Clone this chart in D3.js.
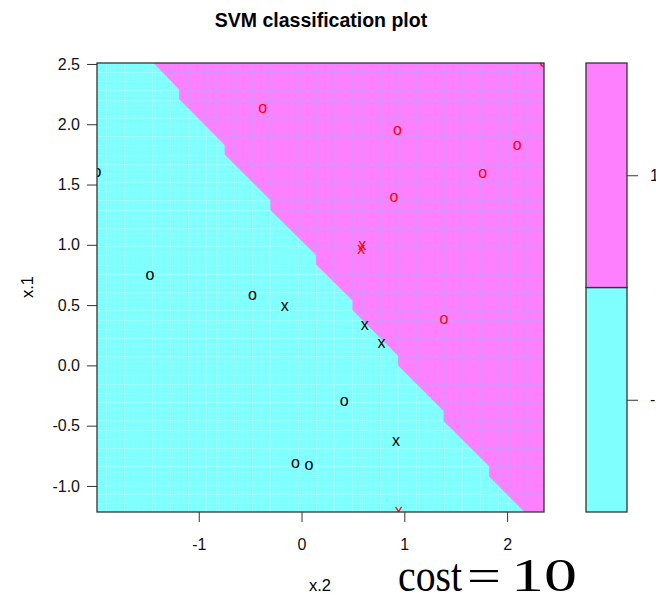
<!DOCTYPE html>
<html>
<head>
<meta charset="utf-8">
<script src="https://cdn.jsdelivr.net/npm/d3@7/dist/d3.min.js"></script>
<style>
  body { margin: 0; background: #fff; }
  svg text { font-family: "Liberation Sans", Arial, Helvetica, sans-serif; }
</style>
</head>
<body>
<svg width="656" height="596"></svg>
<script>
var classes = ["-1", "1"],
    regionColors = ["#80FFFF", "#FF80FF"],
    symbolColors = ["#000000", "#FF0000"];

// training data: x.2 horizontal, x.1 vertical
var pointX2 = [-1.990, -1.476, -0.478, -0.164, 0.616, 0.778, 0.414, 0.918, -0.059, 0.073,
               -0.378, 0.934, 2.099, 1.762, 0.898, 0.591, 0.581, 1.385, 0.947, 2.359];
var pointX1 = [1.596, 0.742, 0.578, 0.487, 0.327, 0.183, -0.301, -0.633, -0.818, -0.832,
               2.127, 1.947, 1.822, 1.593, 1.391, 0.995, 0.957, 0.383, -1.216, 2.508];
var pointClass = [0, 0, 0, 0, 0, 0, 0, 0, 0, 0,
                  1, 1, 1, 1, 1, 1, 1, 1, 1, 1];
var isSupport = [0, 0, 0, 1, 1, 1, 0, 1, 0, 0,
                 0, 0, 0, 0, 0, 1, 1, 0, 1, 0];

// stepped decision boundary
var boundaryX2 = [-1.440, -1.191, -1.191, -0.748, -0.748, -0.303, -0.303, 0.141, 0.141,
                  0.496, 0.496, 0.940, 0.940, 1.382, 1.382, 1.826, 1.826, 2.169];
var boundaryX1 = [2.508, 2.289, 2.210, 1.828, 1.749, 1.372, 1.289, 0.916, 0.837,
                  0.539, 0.460, 0.078, -0.001, -0.378, -0.461, -0.838, -0.921, -1.216];

var xTicks = [-1, 0, 1, 2],
    yTicks = [-1.0, -0.5, 0.0, 0.5, 1.0, 1.5, 2.0, 2.5];

var svg = d3.select("svg"),
    pLeft = 97, pRight = 544, pTop = 63, pBottom = 512;

var x = d3.scaleLinear().domain(d3.extent(pointX2)).range([pLeft, pRight]),
    y = d3.scaleLinear().domain(d3.extent(pointX1)).range([pBottom, pTop]);

var defs = svg.append("defs");
defs.append("clipPath").attr("id", "panel")
  .append("rect")
    .attr("x", pLeft).attr("y", pTop)
    .attr("width", pRight - pLeft).attr("height", pBottom - pTop);

// pink region: boundary then round the right-hand corners
var region = boundaryX2.map(function(d, i) { return [x(d), y(boundaryX1[i])]; });
region.push([x.range()[1], y.range()[0]], [x.range()[1], y.range()[1]]);

defs.append("clipPath").attr("id", "pinkclip")
  .append("polygon")
    .attr("points", region.join(" "));

var plot = svg.append("g").attr("clip-path", "url(#panel)");

plot.append("rect")
    .attr("x", pLeft).attr("y", pTop)
    .attr("width", pRight - pLeft).attr("height", pBottom - pTop)
    .attr("fill", regionColors[0]);

// faint seams of the 50 x 50 prediction grid
var gx = d3.range(50).map(function(i) { return x.domain()[0] + i * (x.domain()[1] - x.domain()[0]) / 49; }),
    gy = d3.range(50).map(function(i) { return y.domain()[0] + i * (y.domain()[1] - y.domain()[0]) / 49; });

function seams(g, color, op) {
  g.selectAll("line.v").data(gx).enter().append("line")
      .attr("x1", function(d) { return Math.round(x(d)) + 0.5; })
      .attr("x2", function(d) { return Math.round(x(d)) + 0.5; })
      .attr("y1", pTop).attr("y2", pBottom)
      .attr("stroke", color).attr("stroke-opacity", op);
  g.selectAll("line.h").data(gy).enter().append("line")
      .attr("y1", function(d) { return Math.round(y(d)) + 0.5; })
      .attr("y2", function(d) { return Math.round(y(d)) + 0.5; })
      .attr("x1", pLeft).attr("x2", pRight)
      .attr("stroke", color).attr("stroke-opacity", op);
}

plot.append("g").call(seams, "#ffffff", 0.2);

plot.append("polygon")
    .attr("points", region.join(" "))
    .attr("fill", regionColors[1]);

plot.append("g").attr("clip-path", "url(#pinkclip)").call(seams, "#90c0ff", 0.28);

// points: "o" for data, "x" for support vectors
plot.selectAll("text.pt")
  .data(pointX2)
  .enter().append("text")
    .attr("class", "pt")
    .attr("x", function(d) { return x(d); })
    .attr("y", function(d, i) { return y(pointX1[i]); })
    .attr("dy", "0.27em")
    .attr("text-anchor", "middle")
    .style("font-size", "16px")
    .attr("fill", function(d, i) { return symbolColors[pointClass[i]]; })
    .text(function(d, i) { return isSupport[i] ? "x" : "o"; });

svg.append("rect")
    .attr("x", pLeft).attr("y", pTop)
    .attr("width", pRight - pLeft).attr("height", pBottom - pTop)
    .attr("fill", "none").attr("stroke", "#333").attr("stroke-width", 1.3);

// axes
var xAxis = svg.append("g")
    .attr("transform", "translate(0," + pBottom + ")")
    .call(d3.axisBottom(x).tickValues(xTicks).tickSize(10).tickSizeOuter(0).tickPadding(17)
      .tickFormat(d3.format("d")));
var yAxis = svg.append("g")
    .attr("transform", "translate(" + pLeft + ",0)")
    .call(d3.axisLeft(y).tickValues(yTicks).tickSize(10).tickSizeOuter(0).tickPadding(7)
      .tickFormat(d3.format(".1f")));

[xAxis, yAxis].forEach(function(a) {
  a.select(".domain").remove();
  a.selectAll(".tick line").attr("stroke", "#333");
  a.selectAll(".tick text")
      .style("font-size", "16px")
      .style("font-family", "'Liberation Sans', Arial, sans-serif")
      .attr("fill", "#111");
});
// R prints a plain hyphen for negatives
yAxis.selectAll(".tick text").text(function(d) { return d3.format(".1f")(d).replace("\u2212", "-"); });
xAxis.selectAll(".tick text").text(function(d) { return String(d); });

// key
var key = d3.scaleLinear().domain([1, classes.length + 1]).range([pBottom, pTop]),
    keyLeft = 586, keyRight = 627;

svg.selectAll("rect.key")
  .data(classes)
  .enter().append("rect")
    .attr("class", "key")
    .attr("x", keyLeft)
    .attr("y", function(d, i) { return key(i + 2); })
    .attr("width", keyRight - keyLeft)
    .attr("height", function(d, i) { return key(i + 1) - key(i + 2); })
    .attr("fill", function(d, i) { return regionColors[i]; })
    .attr("stroke", "#333").attr("stroke-width", 1.3);

var keyAxis = svg.append("g")
    .attr("transform", "translate(" + keyRight + ",0)")
    .call(d3.axisRight(key).tickValues([1.5, 2.5]).tickSize(11).tickSizeOuter(0).tickPadding(12)
      .tickFormat(function(d) { return classes[Math.floor(d) - 1]; }));
keyAxis.select(".domain").remove();
keyAxis.selectAll(".tick line").attr("stroke", "#333");
keyAxis.selectAll(".tick text").style("font-size", "16px").attr("fill", "#111");

// titles
svg.append("text")
    .attr("x", 321).attr("y", 27)
    .attr("text-anchor", "middle")
    .style("font-size", "19.5px").style("font-weight", "bold")
    .text("SVM classification plot");

svg.append("text")
    .attr("x", 320).attr("y", 591)
    .attr("text-anchor", "middle")
    .style("font-size", "16.5px")
    .text("x.2");

svg.append("text")
    .attr("transform", "translate(33,287) rotate(-90)")
    .attr("text-anchor", "middle")
    .style("font-size", "16.5px")
    .text("x.1");

var cost = svg.append("g")
    .style("font-size", "46px");
cost.append("text").attr("x", 398).attr("y", 591)
    .attr("textLength", 64).attr("lengthAdjust", "spacingAndGlyphs")
    .style("font-family", "'Liberation Serif', serif").text("cost");
cost.append("text").attr("x", 467).attr("y", 591)
    .attr("textLength", 34).attr("lengthAdjust", "spacingAndGlyphs")
    .style("font-family", "'Liberation Serif', serif").text("=");
cost.append("text").attr("x", 511).attr("y", 591)
    .attr("textLength", 66).attr("lengthAdjust", "spacingAndGlyphs")
    .style("font-family", "'Liberation Serif', serif").text("10");
</script>
</body>
</html>
